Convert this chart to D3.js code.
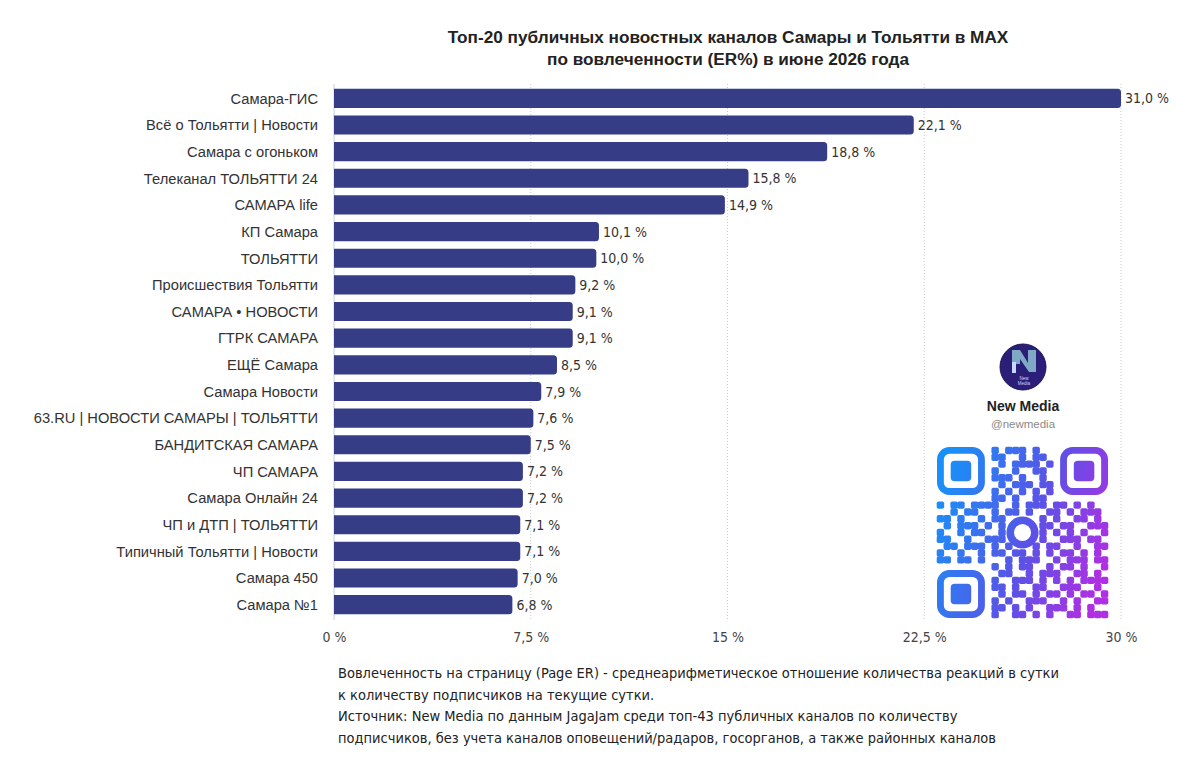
<!DOCTYPE html>
<html>
<head>
<meta charset="utf-8">
<script src="https://cdn.jsdelivr.net/npm/d3@7"></script>
<style>
  html, body { margin: 0; padding: 0; background: #fff; }
  svg { display: block; }
  .narrow { font-family: "Liberation Sans Narrow", "DejaVu Sans Condensed", "Roboto", sans-serif; }
</style>
</head>
<body>
<svg id="chart" width="1200" height="776"></svg>
<script>
const channels = [
  "Самара-ГИС", "Всё о Тольятти | Новости", "Самара с огоньком", "Телеканал ТОЛЬЯТТИ 24",
  "САМАРА life", "КП Самара", "ТОЛЬЯТТИ", "Происшествия Тольятти", "САМАРА • НОВОСТИ",
  "ГТРК САМАРА", "ЕЩЁ Самара", "Самара Новости", "63.RU | НОВОСТИ САМАРЫ | ТОЛЬЯТТИ",
  "БАНДИТСКАЯ САМАРА", "ЧП САМАРА", "Самара Онлайн 24", "ЧП и ДТП | ТОЛЬЯТТИ",
  "Типичный Тольятти | Новости", "Самара 450", "Самара №1"
];
const er = [31.0, 22.1, 18.8, 15.8, 14.9, 10.1, 10.0, 9.2, 9.1, 9.1,
            8.5, 7.9, 7.6, 7.5, 7.2, 7.2, 7.1, 7.1, 7.0, 6.8];
const ticks = [0, 7.5, 15, 22.5, 30];
const titleLines = [
  "Топ-20 публичных новостных каналов Самары и Тольятти в MAX",
  "по вовлеченности (ER%) в июне 2026 года"
];
const noteLines = [
  "Вовлеченность на страницу (Page ER) - среднеарифметическое отношение количества реакций в сутки",
  "к количеству подписчиков на текущие сутки.",
  "Источник: New Media по данным JagaJam среди топ-43 публичных каналов по количеству",
  "подписчиков, без учета каналов оповещений/радаров, госорганов, а также районных каналов"
];
// decorative QR pattern (finder corners and centre drawn separately)
const qrRows = [
  "........#.###.#..........", "........##..#.##.........", ".........#.####.#........",
  "........#..#..##.........", "........###.#..#.........", ".........#.###.##........",
  "........#.#.#.#.#........", "........##.#..##.........", "#.##.####..#.###.##.#.#..",
  "..#.##..#.##.#..##.#.###.", "##.#..#.##.....#.#..##.#.", ".#.###.#.#.....##.##..###",
  "#..#.##..#.....#.#.#.#..#", "##..#..###.....#..###.##.", ".##.###.#.#...#.##..#..##",
  "#..#..#.##.##.#.#.##.#.#.", "##.##.#...#.###..#.###.##", "........#.#.##..#.##.#..#",
  ".........##..#.###..##.#.", "........#..###.#.#.#.####", "........##.#..##..###..#.",
  ".........#.##.#.##.#.##.#", "........#.#..###..#.#..##", "........##.#.#..###.#.#..",
  "........#..##.#.#..##.###"
].map(r => r.padEnd(25, ".").slice(0, 25));

const svg = d3.select("#chart");
const barColor = "#363c86";
const sans = "Liberation Sans, Arial, sans-serif";

const x = d3.scaleLinear().domain([0, 30]).range([334, 1121]).clamp(true);
const y = d3.scaleBand().domain(channels).range([85, 618]).paddingInner(0.28).paddingOuter(0.14);

// title
svg.append("g").selectAll("text").data(titleLines).join("text")
  .attr("x", 728).attr("y", (d, i) => 43 + i * 22)
  .attr("text-anchor", "middle")
  .style("font-family", sans)
  .style("font-weight", "bold").style("font-size", "17.2px").style("fill", "#222")
  .text(d => d);

// grid
svg.append("g").selectAll("line").data(ticks.slice(1)).join("line")
  .attr("x1", d => x(d)).attr("x2", d => x(d))
  .attr("y1", 84).attr("y2", 620)
  .attr("stroke", "#c9c9c9").attr("stroke-dasharray", "1,2");
svg.append("line").attr("x1", x(0)).attr("x2", x(0)).attr("y1", 84).attr("y2", 620)
  .attr("stroke", "#c6cbe0");

// x axis labels
const xAxis = d3.axisBottom(x).tickValues(ticks).tickSize(0).tickPadding(10)
  .tickFormat(d => String(d).replace(".", ",") + " %");
svg.append("g").attr("transform", "translate(0,622)").call(xAxis)
  .call(g => g.select(".domain").remove())
  .call(g => g.selectAll("text").attr("class", "narrow")
    .style("font-size", "14px").style("fill", "#444"));

// bars, right corners rounded
const r = 3.5;
const barPath = d => {
  const x0 = x(0), w = x(d.v) - x0, y0 = y(d.c), h = y.bandwidth();
  return `M${x0},${y0}h${w - r}a${r},${r} 0 0 1 ${r},${r}v${h - 2 * r}a${r},${r} 0 0 1 ${-r},${r}h${-(w - r)}Z`;
};
const rows = channels.map((c, i) => ({c, v: er[i]}));
svg.append("g").selectAll("path").data(rows).join("path")
  .attr("d", barPath).attr("fill", barColor);

// category labels
svg.append("g").selectAll("text").data(rows).join("text")
  .attr("x", 318).attr("y", d => y(d.c) + y.bandwidth() / 2)
  .attr("dy", "0.36em").attr("text-anchor", "end")
  .style("font-family", sans)
  .style("font-size", "14.7px").style("fill", "#333")
  .text(d => d.c);

// value labels
svg.append("g").selectAll("text").data(rows).join("text")
  .attr("class", "narrow")
  .attr("x", d => x(d.v) + 4).attr("y", d => y(d.c) + y.bandwidth() / 2)
  .attr("dy", "0.36em")
  .style("font-size", "14px").style("fill", "#333")
  .text(d => d3.format(".1f")(d.v).replace(".", ",") + " %");

// New Media badge
const badge = svg.append("g");
const defs = svg.append("defs");
const grad = defs.append("linearGradient").attr("id", "qrgrad")
  .attr("gradientUnits", "userSpaceOnUse")
  .attr("x1", 937).attr("y1", 500).attr("x2", 1108).attr("y2", 560);
grad.append("stop").attr("offset", "0%").attr("stop-color", "#1a8ff7");
grad.append("stop").attr("offset", "55%").attr("stop-color", "#5a52e6");
grad.append("stop").attr("offset", "100%").attr("stop-color", "#b02fe2");

badge.append("circle").attr("cx", 1023).attr("cy", 367).attr("r", 23)
  .attr("fill", "#2a1e78").attr("stroke", "#1c1455").attr("stroke-width", 1);
badge.append("path")
  .attr("d", "M1012,350 h8 l8,13 v-13 h8 v22 h-7 l-9,-13 v5 h-8 Z")
  .attr("fill", "#7fa9c4");
badge.append("rect").attr("x", 1012).attr("y", 362).attr("width", 4).attr("height", 11).attr("fill", "#c8d8ff");
badge.append("text").attr("x", 1024).attr("y", 380).attr("text-anchor", "middle")
  .style("font-family", sans).style("font-size", "4.5px").style("fill", "#d0d4ff")
  .text("New");
badge.append("text").attr("x", 1024).attr("y", 385).attr("text-anchor", "middle")
  .style("font-family", sans).style("font-size", "4.5px").style("fill", "#d0d4ff")
  .text("Media");
badge.append("text").attr("x", 1023).attr("y", 411).attr("text-anchor", "middle")
  .style("font-family", sans).style("font-weight", "bold")
  .style("font-size", "14px").style("fill", "#222").text("New Media");
badge.append("text").attr("x", 1023).attr("y", 428).attr("text-anchor", "middle")
  .style("font-family", sans)
  .style("font-size", "11.5px").style("fill", "#8a8a8a").text("@newmedia");

// QR modules
const qx = 937, qy = 447, cell = 171 / 25;
const qr = badge.append("g").attr("fill", "url(#qrgrad)");
const cells = [];
qrRows.forEach((row, ri) => row.split("").forEach((ch, ci) => {
  if (ch === "#") cells.push({ri, ci});
}));
qr.selectAll("rect.m").data(cells).join("rect").attr("class", "m")
  .attr("x", d => qx + d.ci * cell - 0.3).attr("y", d => qy + d.ri * cell - 0.3)
  .attr("width", cell + 0.6).attr("height", cell + 0.6).attr("rx", 1.8);
// finder patterns
const finders = [[0, 0], [0, 18], [18, 0]];
finders.forEach(([fr, fc]) => {
  const fx = qx + fc * cell, fy = qy + fr * cell;
  qr.append("rect").attr("x", fx + cell * 0.5).attr("y", fy + cell * 0.5)
    .attr("width", cell * 6).attr("height", cell * 6).attr("rx", 9)
    .attr("fill", "none").attr("stroke", "url(#qrgrad)").attr("stroke-width", cell);
  qr.append("rect").attr("x", fx + cell * 2).attr("y", fy + cell * 2)
    .attr("width", cell * 3).attr("height", cell * 3).attr("rx", 4);
});
// centre bubble
qr.append("circle").attr("cx", qx + cell * 12.5).attr("cy", qy + cell * 12.5).attr("r", cell * 1.8)
  .attr("fill", "none").attr("stroke", "url(#qrgrad)").attr("stroke-width", cell * 1.1);

// footnote
svg.append("g").selectAll("text").data(noteLines).join("text")
  .attr("class", "narrow")
  .attr("x", 338).attr("y", (d, i) => 678 + i * 21.5)
  .style("font-size", "14.5px").style("fill", "#222")
  .text(d => d);
</script>
</body>
</html>
